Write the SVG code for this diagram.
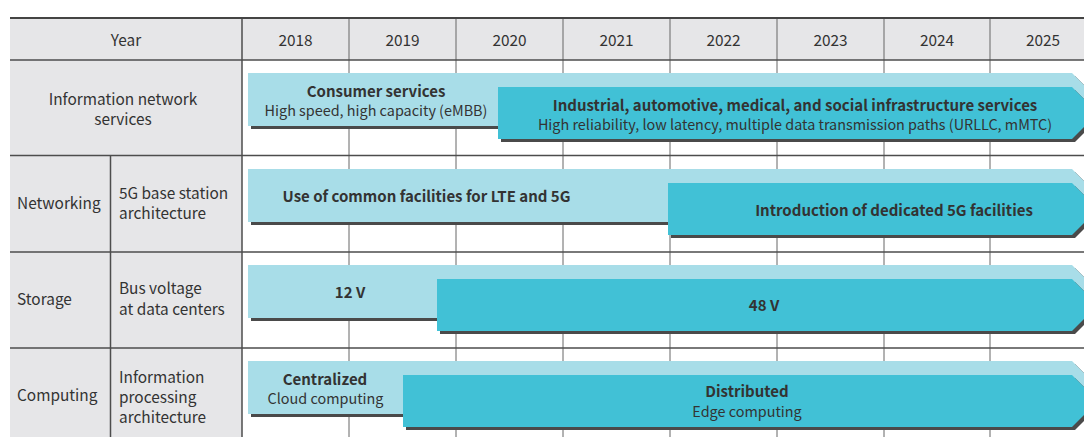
<svg xmlns="http://www.w3.org/2000/svg" xmlns:xlink="http://www.w3.org/1999/xlink" width="1084" height="437" viewBox="0 0 1084 437">
<style>
text{font-family:"Noto Sans CJK JP","Noto Sans","Liberation Sans",sans-serif;fill:#333;font-size:15.4px}
.b{font-weight:700;font-size:15px}
.s{font-size:14.4px}
.c{text-anchor:middle}
.light{fill:#a8dde8}
.dark{fill:#41c1d6}
.sh{fill:#4a4a4a}
.grid{stroke:#666;stroke-width:1;fill:none}
.rule{stroke:#4d4d4d;stroke-width:1.5;fill:none}
</style>
<g id="background">
<rect x="10" y="18" width="1074" height="42" fill="#e6e6e8"/>
<rect x="10" y="60" width="232" height="377" fill="#e6e6e8"/>
<rect x="242" y="60" width="842" height="377" fill="#fff"/>
</g>
<g id="grid">
<path class="grid" d="M349,18V437M456,18V437M563,18V437M670,18V437M777,18V437M884,18V437M990,18V437"/>
<path class="rule" d="M10,60H1084M10,155.5H1084M10,252H1084M10,348H1084M242,18V437M110.5,155.5V437"/>
<path d="M10,18H1084" stroke="#444" stroke-width="2.2" fill="none"/>
</g>
<g id="header">
<text class="c" x="126" y="46">Year</text>
<text class="c" x="295.5" y="46">2018</text>
<text class="c" x="402.5" y="46">2019</text>
<text class="c" x="509.5" y="46">2020</text>
<text class="c" x="616.5" y="46">2021</text>
<text class="c" x="723.5" y="46">2022</text>
<text class="c" x="830.5" y="46">2023</text>
<text class="c" x="937" y="46">2024</text>
<text class="c" x="1043" y="46">2025</text>
</g>
<g id="row-labels">
<text class="c" x="123" y="104.5">Information network</text>
<text class="c" x="123" y="124.5">services</text>
<text x="17" y="209">Networking</text>
<text x="119" y="198.5">5G base station</text>
<text x="119" y="218.5">architecture</text>
<text x="17" y="305">Storage</text>
<text x="119" y="294">Bus voltage</text>
<text x="119" y="315">at data centers</text>
<text x="17" y="401">Computing</text>
<text x="119" y="383">Information</text>
<text x="119" y="403">processing</text>
<text x="119" y="423">architecture</text>
</g>
<g id="consumer-services">
<path class="sh" d="M251,76H1075L1101.5,102.5L1075,129H251Z"/>
<path class="light" d="M248,73H1072L1098.5,99.5L1072,126H248Z"/>
<text class="b c" x="376" y="97">Consumer services</text>
<text class="s c" x="376" y="116">High speed, high capacity (eMBB)</text>
</g>
<g id="infrastructure-services">
<path class="sh" d="M501,90H1075L1101,116L1075,142H501Z"/>
<path class="dark" d="M498,87H1072L1098,113L1072,139H498Z"/>
<text class="b c" x="795" y="111">Industrial, automotive, medical, and social infrastructure services</text>
<text class="s c" x="795" y="130">High reliability, low latency, multiple data transmission paths (URLLC, mMTC)</text>
</g>
<g id="common-facilities">
<path class="sh" d="M251,172H1075L1101.5,198.5L1075,225H251Z"/>
<path class="light" d="M248,169H1072L1098.5,195.5L1072,222H248Z"/>
<text class="b c" x="426.5" y="201.5">Use of common facilities for LTE and 5G</text>
</g>
<g id="dedicated-facilities">
<path class="sh" d="M671,186H1075L1101,212L1075,238H671Z"/>
<path class="dark" d="M668,183H1072L1098,209L1072,235H668Z"/>
<text class="b c" x="894" y="215.5">Introduction of dedicated 5G facilities</text>
</g>
<g id="v12">
<path class="sh" d="M251,268H1075L1101.5,294.5L1075,321H251Z"/>
<path class="light" d="M248,265H1072L1098.5,291.5L1072,318H248Z"/>
<text class="b c" x="350" y="298">12 V</text>
</g>
<g id="v48">
<path class="sh" d="M440,282H1075L1101,308L1075,334H440Z"/>
<path class="dark" d="M437,279H1072L1098,305L1072,331H437Z"/>
<text class="b c" x="764" y="311">48 V</text>
</g>
<g id="centralized">
<path class="sh" d="M251,364H1075L1101.5,390.5L1075,417H251Z"/>
<path class="light" d="M248,361H1072L1098.5,387.5L1072,414H248Z"/>
<text class="b c" x="325" y="384.5">Centralized</text>
<text class="s c" x="325.5" y="404">Cloud computing</text>
</g>
<g id="distributed">
<path class="sh" d="M406,378H1075L1101,404L1075,430H406Z"/>
<path class="dark" d="M403,375H1072L1098,401L1072,427H403Z"/>
<text class="b c" x="747" y="397">Distributed</text>
<text class="s c" x="747" y="416.5">Edge computing</text>
</g>
<g id="connectors"/>
</svg>
